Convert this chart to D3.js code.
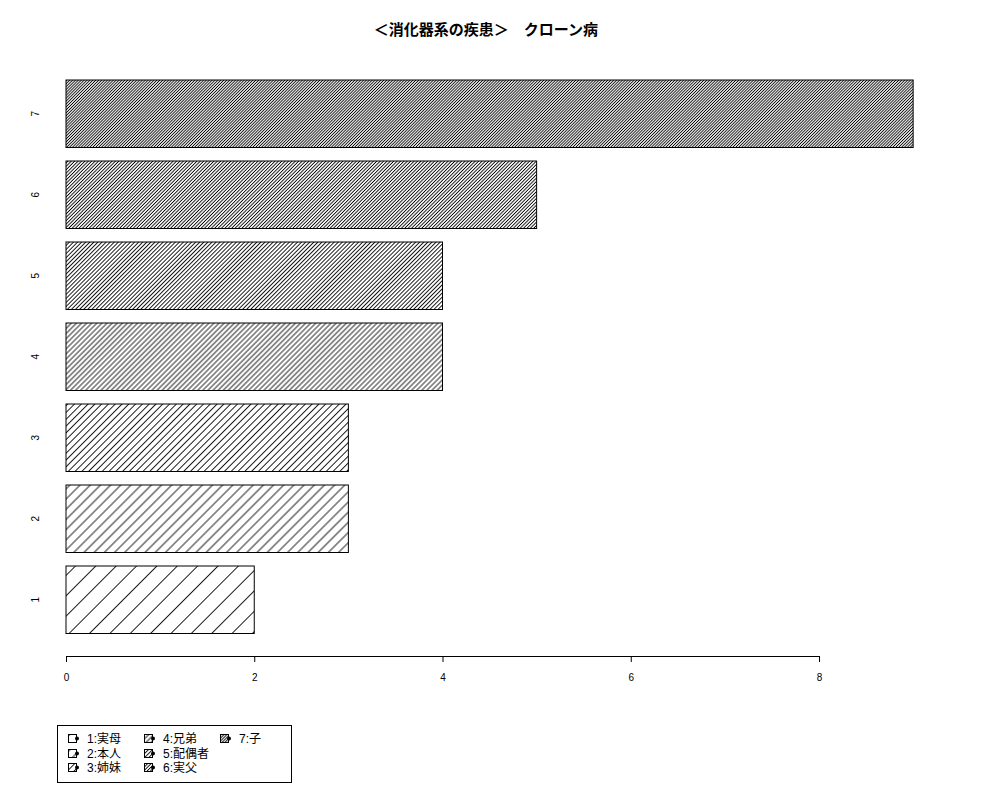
<!DOCTYPE html>
<html>
<head>
<meta charset="utf-8">
<script src="https://cdn.jsdelivr.net/npm/d3@7"></script>
<style>
  body { margin: 0; background: #fff; }
  text { font-family: "Liberation Sans", "Noto Sans CJK JP", sans-serif; }
</style>
</head>
<body>
<div id="chart"></div>
<script>
// data
const categories = ['1', '2', '3', '4', '5', '6', '7'];
const values = [2, 3, 3, 4, 4, 5, 9];
const legendLabels = ['1:実母', '2:本人', '3:姉妹', '4:兄弟', '5:配偶者', '6:実父', '7:子'];
const xTicks = [0, 2, 4, 6, 8];
const titleText = '＜消化器系の疾患＞　クローン病';

// hatch density, lines per inch (R style)
const densities = [5, 10, 15, 20, 25, 30, 35];

const width = 1000;
const height = 800;

const svg = d3.select('#chart')
  .append('svg')
  .attr('width', width)
  .attr('height', height);

const defs = svg.append('defs');
densities.forEach(function(d, i) {
  const gap = 72 / d;
  const p = defs.append('pattern')
    .attr('id', 'hatch' + i)
    .attr('patternUnits', 'userSpaceOnUse')
    .attr('width', gap)
    .attr('height', 10)
    .attr('patternTransform', 'rotate(45)');
  p.append('line')
    .attr('x1', gap / 2).attr('x2', gap / 2)
    .attr('y1', -1).attr('y2', 11)
    .attr('stroke', '#000')
    .attr('stroke-width', 0.9);
});

const x = d3.scaleLinear()
  .domain([0, 8])
  .range([66, 819]);

const y = d3.scaleBand()
  .domain(categories)
  .range([633.5, 80])
  .paddingInner(1 / 6)
  .paddingOuter(0);

// title
svg.append('text')
  .attr('x', 486)
  .attr('y', 35)
  .attr('text-anchor', 'middle')
  .attr('font-size', 15)
  .attr('font-weight', 'bold')
  .text(titleText);

// bars
svg.selectAll('rect.bar')
  .data(values)
  .enter()
  .append('rect')
  .attr('class', 'bar')
  .attr('x', x(0))
  .attr('y', function(d, i) { return y(categories[i]); })
  .attr('width', function(d) { return x(d) - x(0); })
  .attr('height', y.bandwidth())
  .attr('fill', function(d, i) { return 'url(#hatch' + i + ')'; })
  .attr('stroke', '#000')
  .attr('stroke-width', 1);

// y labels (rotated)
svg.selectAll('text.ylab')
  .data(categories)
  .enter()
  .append('text')
  .attr('class', 'ylab')
  .attr('transform', function(d) {
    return 'translate(39,' + (y(d) + y.bandwidth() / 2) + ') rotate(-90)';
  })
  .attr('text-anchor', 'middle')
  .attr('font-size', 10)
  .text(function(d) { return d; });

// x axis
const xAxis = d3.axisBottom(x)
  .tickValues(xTicks)
  .tickSize(6)
  .tickPadding(12)
  .tickSizeOuter(0);

const ax = svg.append('g')
  .attr('transform', 'translate(0,656)')
  .call(xAxis);
ax.select('.domain').attr('stroke', '#000');
ax.selectAll('.tick line').attr('stroke', '#000');
ax.selectAll('.tick text')
  .attr('font-size', 10)
  .attr('font-family', '"Liberation Sans", sans-serif');

// legend
const lg = svg.append('g');
lg.append('rect')
  .attr('x', 57.5)
  .attr('y', 725.5)
  .attr('width', 234)
  .attr('height', 57)
  .attr('fill', 'none')
  .attr('stroke', '#000');

const colX = [68, 144, 220];
const textX = [87, 163, 239];
const rowY = [739, 754, 768];

legendLabels.forEach(function(lab, i) {
  const c = Math.floor(i / 3);
  const r = i % 3;
  lg.append('rect')
    .attr('x', colX[c] + 0.5)
    .attr('y', rowY[r] - 4.5)
    .attr('width', 8)
    .attr('height', 8)
    .attr('fill', 'url(#hatch' + i + ')')
    .attr('stroke', '#000');
  lg.append('circle')
    .attr('cx', colX[c] + 9)
    .attr('cy', rowY[r] - 0.5)
    .attr('r', 2)
    .attr('fill', '#000');
  lg.append('text')
    .attr('x', textX[c])
    .attr('y', rowY[r])
    .attr('dy', '0.35em')
    .attr('font-size', 12)
    .text(lab);
});
</script>
</body>
</html>
